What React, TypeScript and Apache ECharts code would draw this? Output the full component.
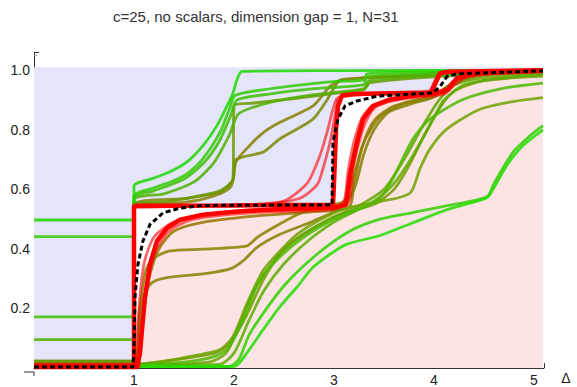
import React, { useEffect, useRef } from "react";
import * as echarts from "echarts";

const titleText = "c=25, no scalars, dimension gap = 1, N=31";
const axisName = "Δ";

// shading
const shadeTop: number[][] = [[0, 1.01], [5.09, 1.01]];
const upperBoundary: number[][] = [[0,0.008],[1.0,0.008],[1.0,0.545],[2.0,0.546],[2.99,0.548],[3.0,0.62],[3.02,0.8],[3.04,0.88],[3.08,0.915],[3.2,0.92],[3.97,0.925],[4.02,0.96],[4.06,0.99],[4.15,0.995],[5.09,1.0]];
const lowerBoundary: number[][] = [[0,0.003],[1.03,0.003],[1.06,0.05],[1.08,0.128],[1.11,0.239],[1.16,0.349],[1.23,0.427],[1.33,0.471],[1.46,0.498],[1.69,0.515],[2.03,0.526],[2.5,0.535],[3.0,0.54],[3.12,0.548],[3.16,0.648],[3.23,0.758],[3.29,0.836],[3.39,0.88],[3.56,0.902],[3.8,0.915],[4.0,0.922],[4.14,0.935],[4.23,0.974],[4.43,0.99],[5.09,0.998]];
const boundCurve: number[][] = [[0,0.003],[0.99,0.003],[1.0,0.05],[1.01,0.239],[1.04,0.349],[1.09,0.427],[1.16,0.482],[1.29,0.521],[1.46,0.537],[1.69,0.546],[2.98,0.548],[2.99,0.758],[3.04,0.836],[3.11,0.88],[3.23,0.897],[3.43,0.913],[3.99,0.924],[4.06,0.946],[4.13,0.979],[4.23,0.988],[5.09,0.998]];

// red curves
const red1: number[][] = [[1.0,0.54],[2.0,0.548],[2.49,0.56],[2.73,0.62],[2.86,0.714],[2.93,0.791],[2.99,0.869],[3.04,0.908],[3.5,0.922],[3.95,0.93],[4.0,0.96],[4.05,0.99]];
const red2: number[][] = [[1.0,0.54],[2.3,0.55],[2.66,0.57],[2.83,0.615],[2.89,0.67],[2.96,0.758],[3.01,0.847],[3.04,0.902]];
const red3: number[][] = [[1.05,0.0],[1.1,0.2],[1.2,0.38],[1.35,0.46],[1.6,0.5],[2.2,0.522],[3.0,0.533],[3.15,0.56],[3.19,0.67],[3.26,0.77],[3.33,0.836],[3.43,0.88],[3.7,0.905],[4.1,0.92],[4.2,0.95],[4.35,0.98],[5.09,0.995]];
const red4: number[][] = [[1.02,0.0],[1.05,0.2],[1.1,0.35],[1.2,0.44],[1.4,0.49],[1.8,0.52],[3.0,0.538],[3.1,0.56],[3.14,0.66],[3.2,0.76],[3.28,0.84],[3.4,0.885],[3.8,0.912],[4.1,0.925],[4.18,0.96],[4.3,0.985]];

// upper (lavender side) curves
const u1: number[][] = [[0,0.497],[1.0,0.497],[1.0,0.611],[1.19,0.637],[1.36,0.659],[1.53,0.692],[1.69,0.747],[1.83,0.814],[1.93,0.88],[1.99,0.924],[2.03,0.968],[2.08,0.996],[3.0,0.999],[5.09,1.0]];
const u2: number[][] = [[0,0.441],[1.0,0.441],[1.0,0.577],[1.2,0.605],[1.4,0.63],[1.53,0.652],[1.69,0.703],[1.86,0.792],[1.96,0.875],[2.01,0.915],[2.3,0.935],[2.7,0.952],[3.0,0.962],[3.3,0.968],[3.33,0.988],[4.0,0.995],[5.09,1.0]];
const u3: number[][] = [[0,0.172],[1.0,0.172],[1.0,0.57],[1.2,0.595],[1.5,0.635],[1.7,0.69],[1.85,0.76],[1.97,0.85],[2.03,0.9],[2.4,0.922],[2.8,0.938],[3.3,0.952],[3.33,0.978],[4.0,0.99],[5.09,0.998]];
const u4: number[][] = [[0,0.095],[1.0,0.095],[1.0,0.562],[1.3,0.585],[1.6,0.625],[1.8,0.69],[1.95,0.78],[2.05,0.855],[2.4,0.895],[2.8,0.918],[3.3,0.938],[3.35,0.965],[4.0,0.982],[5.09,0.996]];
const u5: number[][] = [[0,0.023],[1.0,0.023],[1.0,0.55],[1.3,0.558],[1.6,0.575],[1.86,0.595],[1.99,0.637],[2.0,0.88],[2.2,0.89],[2.6,0.905],[3.0,0.922],[3.3,0.935],[3.36,0.958],[4.0,0.978],[5.09,0.995]];
const u6: number[][] = [[0,0.023],[1.0,0.023],[1.0,0.548],[1.53,0.57],[1.86,0.592],[1.99,0.63],[2.02,0.7],[2.29,0.725],[2.46,0.77],[2.79,0.836],[2.93,0.9],[2.99,0.935],[3.06,0.965],[3.5,0.978],[5.09,0.997]];
const u7: number[][] = [[0,0.014],[1.0,0.014],[1.0,0.546],[1.5,0.556],[1.8,0.578],[1.97,0.61],[2.02,0.692],[2.15,0.745],[2.29,0.79],[2.46,0.825],[2.79,0.88],[2.96,0.946],[3.1,0.97],[5.09,0.997]];

// lower (pink side) curves
const p1: number[][] = [[0,0.014],[1.0,0.014],[1.06,0.18],[1.12,0.26],[1.19,0.289],[1.36,0.305],[1.69,0.316],[1.96,0.333],[2.09,0.36],[2.23,0.405],[2.46,0.449],[2.79,0.493],[3.06,0.537],[3.2,0.6],[3.3,0.72],[3.4,0.8],[3.55,0.86],[3.8,0.89],[4.0,0.91],[4.2,0.96],[4.5,0.985],[5.09,0.995]];
const p2: number[][] = [[0,0.014],[1.0,0.014],[1.06,0.2],[1.12,0.33],[1.2,0.37],[1.36,0.393],[1.69,0.399],[2.13,0.41],[2.23,0.438],[2.39,0.471],[2.63,0.515],[2.86,0.543],[3.1,0.56],[3.2,0.65],[3.3,0.76],[3.45,0.84],[3.7,0.89],[4.0,0.915],[4.15,0.95],[4.4,0.985],[5.09,0.997]];
const p3: number[][] = [[0,0.014],[1.0,0.014],[1.08,0.15],[1.15,0.3],[1.25,0.4],[1.4,0.46],[1.7,0.49],[2.2,0.51],[2.8,0.525],[3.15,0.54],[3.2,0.62],[3.28,0.74],[3.4,0.83],[3.6,0.88],[4.0,0.91],[4.2,0.955],[4.5,0.985],[5.09,0.995]];
const s1: number[][] = [[1.0,0.012],[1.19,0.017],[1.5,0.035],[1.86,0.062],[1.99,0.106],[2.13,0.217],[2.29,0.327],[2.46,0.393],[2.63,0.449],[2.86,0.498],[3.13,0.537],[3.46,0.559],[3.76,0.587],[3.86,0.67],[3.96,0.736],[4.13,0.803],[4.46,0.869],[4.79,0.895],[5.09,0.908]];
const s2: number[][] = [[1.0,0.012],[1.5,0.02],[1.8,0.038],[1.95,0.07],[2.1,0.17],[2.25,0.29],[2.45,0.37],[2.7,0.44],[3.0,0.5],[3.3,0.54],[3.46,0.57],[3.59,0.637],[3.79,0.77],[3.96,0.836],[4.29,0.902],[4.7,0.94],[5.09,0.957]];
const s3: number[][] = [[1.0,0.01],[1.85,0.012],[2.0,0.05],[2.15,0.16],[2.3,0.26],[2.5,0.35],[2.75,0.43],[3.0,0.49],[3.2,0.525],[3.4,0.56],[3.6,0.62],[3.8,0.72],[4.0,0.84],[4.1,0.9],[4.3,0.95],[4.6,0.97],[5.09,0.985]];
const s4: number[][] = [[1.0,0.01],[1.75,0.02],[1.92,0.05],[2.05,0.14],[2.2,0.26],[2.4,0.36],[2.65,0.44],[2.95,0.5],[3.25,0.545],[3.5,0.6],[3.7,0.7],[3.9,0.82],[4.05,0.9],[4.2,0.95],[4.5,0.975],[5.09,0.99]];
const s5: number[][] = [[1.0,0.01],[1.79,0.048],[1.95,0.08],[2.1,0.16],[2.3,0.3],[2.5,0.4],[2.8,0.47],[3.1,0.52],[3.4,0.55],[3.6,0.6],[3.75,0.68],[3.9,0.78],[4.05,0.87],[4.2,0.93],[4.5,0.965],[5.09,0.98]];
const gA: number[][] = [[1.0,0.005],[2.0,0.005],[2.13,0.051],[2.29,0.128],[2.46,0.206],[2.63,0.272],[2.79,0.338],[2.96,0.382],[3.13,0.416],[3.46,0.445],[3.79,0.488],[4.13,0.532],[4.53,0.572],[4.59,0.6],[4.73,0.681],[4.89,0.747],[5.09,0.8]];
const gB: number[][] = [[1.0,0.005],[1.95,0.005],[2.05,0.03],[2.16,0.117],[2.49,0.272],[2.83,0.382],[3.16,0.46],[3.46,0.5],[3.8,0.523],[4.13,0.545],[4.53,0.575],[4.6,0.62],[4.79,0.725],[4.96,0.78],[5.09,0.814]];

const greenCurves: [number[][], string][] = [
  [u7, "#868000"], [u6, "#7d8800"], [u5, "#6a9a00"], [u4, "#4fb000"], [u3, "#3dbf00"], [u2, "#2fcc00"], [u1, "#1fd800"],
  [p3, "#957400"], [p2, "#8a8000"], [p1, "#858000"],
  [s5, "#729c00"], [s4, "#64a600"], [s3, "#5aae00"], [s1, "#6fa300"], [s2, "#4cbb00"],
  [gB, "#30d000"], [gA, "#22dd00"],
];
const redCurves: number[][][] = [red1, red2, red3, red4];

const FONT = "'Liberation Sans', Arial, sans-serif";

export default function App() {
  const ref = useRef<HTMLDivElement>(null);
  useEffect(() => {
    if (!ref.current) return;
    const chart = echarts.init(ref.current, null, { renderer: "svg" });
    const area = (data: number[][], color: string) => ({
      type: "line", data, showSymbol: false, silent: true,
      lineStyle: { width: 0, opacity: 0 }, areaStyle: { color, opacity: 1 },
    });
    const line = (data: number[][], color: string, width: number, opacity: number, smooth: number) => ({
      type: "line", data, showSymbol: false, silent: true, smooth,
      lineStyle: { color, width, opacity },
    });
    const series: any[] = [
      area(shadeTop, "#e5e5fa"),
      area(upperBoundary, "#ffffff"),
      area(lowerBoundary, "#fde4e4"),
      ...greenCurves.map(([d, c]) => line(d, c, 2.8, 0.85, 0.25)),
      ...redCurves.map((d) => line(d, "#ff0000", 2.8, 0.6, 0.25)),
      line(upperBoundary, "#ff0000", 4.5, 1, 0),
      line(lowerBoundary, "#ff0000", 4.5, 1, 0),
      {
        type: "line", data: boundCurve, showSymbol: false, silent: true,
        lineStyle: { color: "#000000", width: 3, type: [5, 3] },
      },
    ];
    chart.setOption({
      animation: false,
      title: {
        text: titleText, left: 113, top: 9, padding: 0,
        textStyle: { fontSize: 15, fontWeight: "normal", color: "#333", fontFamily: FONT },
      },
      grid: { left: 34, right: 33, top: 52, bottom: 15 },
      xAxis: {
        type: "value", min: 0, max: 5.1, interval: 1,
        axisLine: { show: true, onZero: false, lineStyle: { color: "#333", width: 1 } },
        axisTick: { show: true, inside: true, length: 5, lineStyle: { color: "#333" } },
        minorTick: { show: true, splitNumber: 5, length: 3, lineStyle: { color: "#999" } },
        splitLine: { show: false },
        axisLabel: { showMinLabel: false, showMaxLabel: false, fontSize: 14, color: "#222", margin: 5, fontFamily: FONT },
      },
      yAxis: {
        type: "value", min: 0, max: 1.0613, interval: 0.2,
        axisLine: { show: true, onZero: false, lineStyle: { color: "#333", width: 1 } },
        axisTick: { show: true, inside: true, length: 5, lineStyle: { color: "#333" } },
        minorTick: { show: true, splitNumber: 4, length: 3, lineStyle: { color: "#999" } },
        splitLine: { show: false },
        axisLabel: {
          showMinLabel: false, showMaxLabel: false, fontSize: 14, color: "#222", margin: 4, fontFamily: FONT,
          formatter: (v: number) => v.toFixed(1),
        },
      },
      graphic: [
        { type: "line", shape: { x1: 24, y1: 372, x2: 34, y2: 372 }, style: { stroke: "#333", lineWidth: 1 } },
        { type: "line", shape: { x1: 34, y1: 372, x2: 34, y2: 376 }, style: { stroke: "#333", lineWidth: 1 } },
        {
          type: "text", x: 566, y: 378,
          style: { text: axisName, fontSize: 14, fill: "#222", align: "center", verticalAlign: "middle", fontFamily: FONT },
        },
      ],
      series,
    });
    return () => chart.dispose();
  }, []);
  return <div ref={ref} style={{ position: "absolute", left: 0, top: 0, width: 577, height: 387 }} />;
}
